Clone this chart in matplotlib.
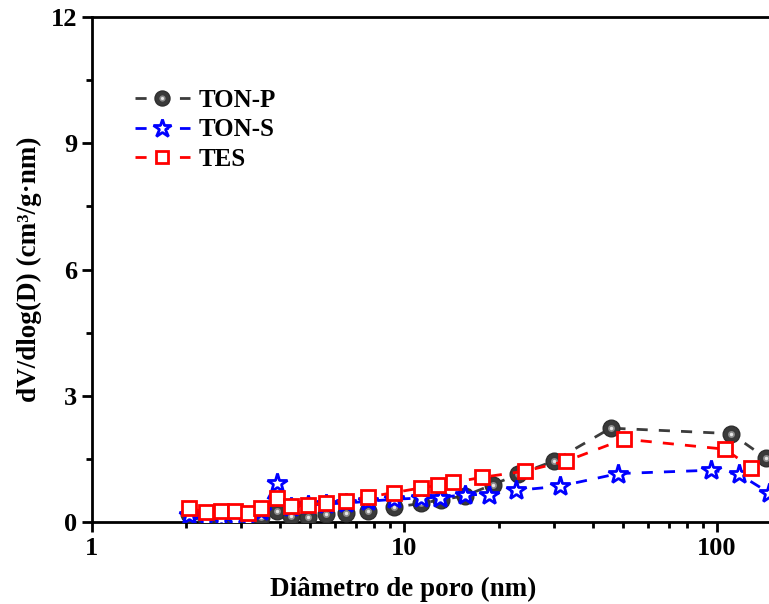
import matplotlib.pyplot as plt
from matplotlib.legend_handler import HandlerTuple
from matplotlib.ticker import MultipleLocator

plt.rcParams['font.family'] = ['Liberation Serif', 'DejaVu Serif']
plt.rcParams['font.weight'] = 'bold'

# TON-P
x_tonp = [2.05, 2.32, 2.58, 2.86, 3.15, 3.48, 3.90, 4.34, 4.91, 5.60, 6.52, 7.62,
          9.28, 11.3, 13.1, 15.6, 19.2, 23.1, 30.1, 45.7, 111, 144]
y_tonp = [0.20, 0.10, 0.08, 0.05, 0.05, 0.13, 0.25, 0.14, 0.13, 0.18, 0.21, 0.27,
          0.35, 0.44, 0.53, 0.62, 0.89, 1.13, 1.45, 2.23, 2.10, 1.51]
# TON-S
x_tons = [2.05, 2.32, 2.58, 2.86, 3.15, 3.48, 3.90, 4.34, 4.91, 5.60, 6.52, 7.62,
          9.28, 11.3, 13.0, 15.6, 18.7, 22.8, 31.4, 48.3, 95.7, 118, 147]
y_tons = [0.17, 0.05, 0.06, 0.05, 0.05, 0.25, 0.93, 0.35, 0.40, 0.43, 0.45, 0.49,
          0.54, 0.57, 0.58, 0.65, 0.65, 0.75, 0.85, 1.15, 1.23, 1.13, 0.69]
# TES
x_tes = [2.05, 2.32, 2.58, 2.86, 3.15, 3.48, 3.90, 4.34, 4.91, 5.60, 6.52, 7.62,
         9.28, 11.3, 12.8, 14.3, 17.7, 24.4, 33.0, 50.5, 106, 129]
y_tes = [0.33, 0.23, 0.27, 0.25, 0.21, 0.34, 0.58, 0.37, 0.41, 0.45, 0.51, 0.59,
         0.70, 0.81, 0.87, 0.94, 1.06, 1.21, 1.45, 1.97, 1.73, 1.29]

fig = plt.figure(figsize=(7.69, 6.04), dpi=100)
ax = fig.add_axes([0.1196, 0.1358, 0.935, 0.836])

# sphere-like markers: dark ball + soft highlight
l1, = ax.plot(x_tonp, y_tonp, color='#3c3c3c', lw=2, marker='o', ms=12,
              mfc='#3a3a3a', mec='#2e2e2e', dashes=(4, 4), zorder=3)
h1, = ax.plot(x_tonp, y_tonp, ls='none', marker='o', ms=5, mfc='#8a8a8a',
              mec='none', zorder=3.1)
h2, = ax.plot(x_tonp, y_tonp, ls='none', marker='o', ms=2.5, mfc='#e6e6e6',
              mec='none', zorder=3.2)
l2, = ax.plot(x_tons, y_tons, color='blue', lw=2, marker='*', ms=15,
              mfc='white', mec='blue', mew=2, dashes=(4, 4), zorder=4)
l3, = ax.plot(x_tes, y_tes, color='red', lw=2, marker='s', ms=9.5,
              mfc='white', mec='red', mew=2, dashes=(4, 4), zorder=5)

ax.set_xscale('log')
ax.set_xlim(1, 200)
ax.set_ylim(0, 12)
ax.yaxis.set_major_locator(MultipleLocator(3))
ax.yaxis.set_minor_locator(MultipleLocator(1.5))
ax.tick_params(which='both', direction='out', top=False, right=False,
               width=2, labelsize=19)
ax.tick_params(which='major', length=7)
ax.tick_params(which='minor', length=4)
ax.xaxis.set_major_formatter(plt.FuncFormatter(lambda v, p: f'{v:g}'))
for s in ax.spines.values():
    s.set_linewidth(2)

ax.set_xlabel('Diâmetro de poro (nm)', fontsize=19.5, fontweight='bold')
ax.set_ylabel('dV/dlog(D) (cm³/g·nm)', fontsize=19.5, fontweight='bold')
ax.xaxis.set_label_coords(0.433, -0.108)
ax.yaxis.set_label_coords(-0.07, 0.5)

leg = ax.legend([(l1, h1, h2), l2, l3], ['TON-P', 'TON-S', 'TES'],
                handler_map={tuple: HandlerTuple(ndivide=1)},
                loc='upper left', bbox_to_anchor=(0.028, 0.902), frameon=False,
                fontsize=18, handlelength=2.2, handletextpad=0.35,
                labelspacing=0.25, markerscale=0.9)

fig.savefig('out.png', dpi=100)
